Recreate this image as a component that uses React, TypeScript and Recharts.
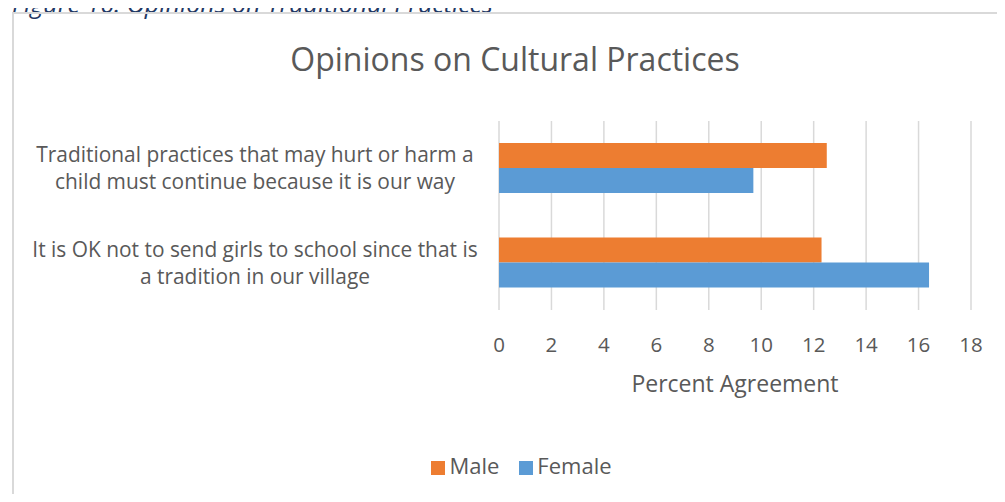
import { BarChart, Bar, XAxis, YAxis, CartesianGrid, Legend } from "recharts";

const categories = [
  "Traditional practices that may hurt or harm a child must continue because it is our way",
  "It is OK not to send girls to school since that is a tradition in our village",
];
const maleValues = [12.5, 12.3];
const femaleValues = [9.7, 16.4];
const xTicks = [0, 2, 4, 6, 8, 10, 12, 14, 16, 18];
const seriesOrder = ["Male", "Female"];

const data = categories.map((name, i) => ({ name, Male: maleValues[i], Female: femaleValues[i] }));

const FONT = "'Open Sans', Lato, sans-serif";
const GREY = "#595959";

function wrap(text: string, max: number) {
  const lines: string[] = [];
  let cur = "";
  for (const w of text.split(" ")) {
    const next = cur ? cur + " " + w : w;
    if (next.length > max && cur) {
      lines.push(cur);
      cur = w;
    } else cur = next;
  }
  if (cur) lines.push(cur);
  return lines;
}

const CategoryTick = (props: any) => {
  const { x, y, payload } = props;
  const lines = wrap(payload.value, 50);
  const lh = 27;
  const startY = y - ((lines.length - 1) * lh) / 2;
  return (
    <text x={x - 236} y={startY} textAnchor="middle" fill={GREY} fontSize={20.9} fontFamily={FONT}>
      {lines.map((l, i) => (
        <tspan key={i} x={x - 236} y={startY + i * lh} dy="0.35em">
          {l}
        </tspan>
      ))}
    </text>
  );
};

export default function App() {
  return (
    <div style={{ position: "relative", width: 1005, height: 502, margin: -8, overflow: "hidden", background: "#fff" }}>
      <div
        style={{
          position: "absolute",
          left: 12,
          top: -14,
          fontFamily: FONT,
          fontStyle: "italic",
          fontSize: 25,
          color: "#1f3864",
          whiteSpace: "nowrap",
        }}
      >
        Figure 16: Opinions on Traditional Practices
      </div>
      <div
        style={{
          position: "absolute",
          left: 12,
          top: 12,
          width: 1010,
          height: 520,
          borderTop: "2px solid #d9d9d9",
          borderLeft: "2px solid #d9d9d9",
        }}
      />
      <div
        style={{
          position: "absolute",
          left: 0,
          top: 37,
          width: 1005,
          textAlign: "center",
          paddingLeft: 25,
          boxSizing: "border-box",
          fontFamily: FONT,
          fontSize: 32,
          color: GREY,
        }}
      >
        Opinions on Cultural Practices
      </div>
      <div style={{ position: "absolute", left: 0, top: 0 }}>
        <BarChart
          width={1005}
          height={502}
          data={data}
          layout="vertical"
          margin={{ top: 121, right: 34, bottom: 132, left: 0 }}
          barCategoryGap={22}
          barGap={0}
        >
          <CartesianGrid horizontal={false} stroke="#d9d9d9" strokeWidth={1.5} />
          <XAxis
            type="number"
            domain={[0, 18]}
            ticks={xTicks}
            axisLine={false}
            tickLine={false}
            tickMargin={21}
            height={60}
            tick={{ fill: GREY, fontSize: 20.5, fontFamily: FONT }}
            label={{ value: "Percent Agreement", position: "bottom", offset: 6, fill: GREY, fontSize: 23, fontFamily: FONT }}
          />
          <YAxis type="category" dataKey="name" width={499} axisLine={false} tickLine={false} tick={<CategoryTick />} />
          <Legend
            layout="horizontal"
            verticalAlign="middle"
            align="center"
            iconType="square"
            iconSize={14}
            itemSorter={(item: any) => seriesOrder.indexOf(item.value)}
            wrapperStyle={{ top: 450, left: 29, width: 1005, fontFamily: FONT, fontSize: 22 }}
            formatter={(v: string) => <span style={{ color: GREY, marginLeft: 0, marginRight: 10 }}>{v}</span>}
          />
          <Bar dataKey="Male" fill="#ed7d31" isAnimationActive={false} />
          <Bar dataKey="Female" fill="#5b9bd5" isAnimationActive={false} />
        </BarChart>
      </div>
    </div>
  );
}
